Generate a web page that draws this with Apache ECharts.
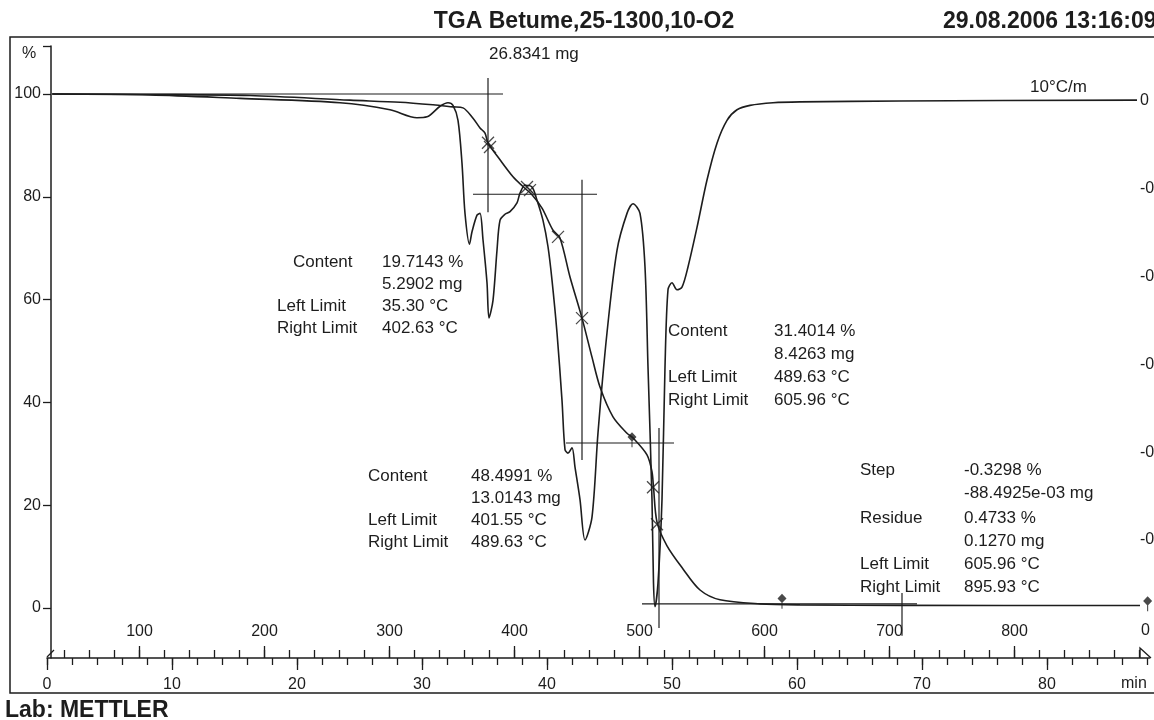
<!DOCTYPE html>
<html>
<head>
<meta charset="utf-8">
<script src="https://cdn.jsdelivr.net/npm/echarts@6/dist/echarts.min.js"></script>
<style>
html,body{margin:0;padding:0;background:#fff;}
#chart{width:1154px;height:720px;}
</style>
</head>
<body>
<div id="chart"></div>
<script>
// ---- Measured curves -------------------------------------------------
// TGA weight curve: time (min) and remaining weight (%)
const tgaTime   = [0.40, 8.24, 16.24, 24.24, 28.24, 30.88, 32.48, 33.28, 34.08, 34.64, 35.04, 35.28, 36.24, 37.28, 38.08, 38.80, 39.60, 40.48, 41.04, 41.84, 42.80, 43.60, 44.24, 45.28, 46.40, 46.88, 48.00, 48.40, 48.52, 48.80, 49.60, 50.88, 52.24, 53.84, 57.04, 60.24, 68.24, 87.44];
const tgaWeight = [100.0, 99.9, 99.7, 98.8, 98.4, 97.9, 97.5, 97.3, 95.3, 93.4, 92.4, 90.5, 87.2, 83.9, 82.0, 80.4, 77.8, 73.5, 72.0, 64.4, 56.4, 48.8, 43.0, 37.2, 34.0, 33.1, 29.8, 26.5, 23.5, 16.7, 12.1, 7.6, 3.5, 1.6, 0.8, 0.6, 0.5, 0.47];

// DTG (first derivative) curve: time (min) and derivative signal
const dtgTime  = [0.48, 8.24, 15.44, 23.44, 27.44, 29.60, 30.40, 31.44, 32.08, 32.48, 32.88, 33.20, 33.44, 33.80, 34.00, 34.40, 34.64, 34.88, 35.20, 35.36, 35.68, 36.00, 36.24, 36.64, 37.04, 37.60, 37.84, 38.24, 38.80, 39.20, 39.68, 40.08, 40.40, 40.80, 41.20, 41.44, 41.68, 42.00, 42.24, 42.64, 43.04, 43.60, 44.08, 44.80, 45.60, 46.40, 46.88, 47.44, 47.84, 48.08, 48.40, 48.52, 48.64, 48.88, 49.20, 49.44, 49.68, 50.00, 50.40, 50.80, 51.28, 52.00, 52.80, 53.60, 54.40, 55.20, 56.24, 58.08, 60.24, 68.24, 87.20];
const dtgValue = [0.008, 0.007, 0.003, -0.002, -0.010, -0.019, -0.018, -0.006, -0.002, -0.005, -0.022, -0.071, -0.128, -0.163, -0.149, -0.130, -0.128, -0.158, -0.207, -0.247, -0.227, -0.170, -0.136, -0.129, -0.126, -0.116, -0.105, -0.096, -0.098, -0.113, -0.136, -0.166, -0.204, -0.264, -0.341, -0.397, -0.401, -0.395, -0.417, -0.454, -0.500, -0.474, -0.378, -0.264, -0.170, -0.128, -0.117, -0.128, -0.189, -0.303, -0.454, -0.549, -0.576, -0.549, -0.454, -0.303, -0.215, -0.207, -0.215, -0.212, -0.189, -0.144, -0.090, -0.048, -0.022, -0.010, -0.005, -0.002, -0.001, 0.000, 0.001];

// Step evaluation construction lines: [[t1, w1], [t2, w2]]
const stepLines = [
  [[0.40, 100.0], [36.48, 100.0]],
  [[35.28, 103.1], [35.28, 77.0]],
  [[34.08, 80.5], [44.00, 80.5]],
  [[42.80, 83.3], [42.80, 28.8]],
  [[41.52, 32.1], [50.16, 32.1]],
  [[48.96, 35.0], [48.96, -3.9]],
  [[47.60, 0.8], [69.60, 0.8]],
  [[68.40, 2.9], [68.40, -5.4]]
];
// Tangent intersection marks on the weight curve
const crossMarks = [[35.28, 90.5], [35.44, 89.7], [38.64, 81.3], [38.40, 81.9], [40.88, 72.2], [42.80, 56.4], [48.48, 23.5], [48.80, 16.3]];
// Inflection / limit marks
const diamondMarks = [[46.80, 33.3], [58.80, 1.9], [88.05, 1.4]];

// Axis tick values
const weightTicks = [0, 20, 40, 60, 80, 100];
const timeMajorTicks = [0, 10, 20, 30, 40, 50, 60, 70, 80];
const timeMinorTicks = Array.from({length: 45}, (_, i) => i * 2);
const tempMajorTicks = [100, 200, 300, 400, 500, 600, 700, 800];
const tempMinorTicks = Array.from({length: 44}, (_, i) => 40 + i * 20);
const dtgTicks = [0, -0.1, -0.2, -0.3, -0.4, -0.5];

// Texts
const titleText = 'TGA Betume,25-1300,10-O2';
const dateText = '29.08.2006 13:16:09';
const sampleMass = '26.8341 mg';
const heatingRate = '10°C/m';
const labText = 'Lab: METTLER';
const stepBlocks = [
  [['Content', '19.7143 %'], ['', '5.2902 mg'], ['Left Limit', '35.30 °C'], ['Right Limit', '402.63 °C']],
  [['Content', '48.4991 %'], ['', '13.0143 mg'], ['Left Limit', '401.55 °C'], ['Right Limit', '489.63 °C']],
  [['Content', '31.4014 %'], ['', '8.4263 mg'], ['Left Limit', '489.63 °C'], ['Right Limit', '605.96 °C']],
  [['Step', '-0.3298 %'], ['', '-88.4925e-03 mg'], ['Residue', '0.4733 %'], ['', '0.1270 mg'], ['Left Limit', '605.96 °C'], ['Right Limit', '895.93 °C']]
];

// ---- Layout ----------------------------------------------------------
const INK = '#1d1d1d';
const FONT = "'Liberation Sans', Arial, sans-serif";
const blockLayout = [
  {labelX: [293, 293, 277, 277], valueX: 382, rowY: [262, 284, 306, 328]},
  {labelX: [368, 368, 368, 368], valueX: 471, rowY: [476, 498, 520, 542]},
  {labelX: [668, 668, 668, 668], valueX: 774, rowY: [331, 354, 377, 400]},
  {labelX: [860, 860, 860, 860, 860, 860], valueX: 964, rowY: [470, 493, 518, 541, 564, 587]}
];

const zip = (a, b) => a.map((v, i) => [v, b[i]]);

const graphics = [];
function txt(x, y, s, opt) {
  graphics.push({
    type: 'text', x: x, y: y, silent: true,
    style: Object.assign({text: s, fill: INK, font: '17px ' + FONT, verticalAlign: 'middle', align: 'left'}, opt || {})
  });
}
// frame, header rule and axis end decorations
graphics.push({type: 'rect', shape: {x: 10, y: 37, width: 1170, height: 656}, style: {fill: 'none', stroke: INK, lineWidth: 1.5}, silent: true});
graphics.push({type: 'line', shape: {x1: 47, y1: 657, x2: 54, y2: 650}, style: {stroke: INK, lineWidth: 1.2}, silent: true});
graphics.push({type: 'polyline', shape: {points: [[1140, 658], [1140, 648], [1151, 658]]}, style: {stroke: INK, fill: 'none', lineWidth: 1.3}, silent: true});
txt(584, 22, titleText, {font: 'bold 23px ' + FONT, align: 'center'});
txt(943, 22, dateText, {font: 'bold 23px ' + FONT});
txt(489, 54, sampleMass);
txt(1030, 87, heatingRate);
txt(5, 711, labText, {font: 'bold 23px ' + FONT});
txt(22, 54, '%', {font: '16px ' + FONT});
txt(1121, 684, 'min', {font: '16px ' + FONT});
txt(1141, 631, '0', {font: '16px ' + FONT});
stepBlocks.forEach((rows, b) => {
  const L = blockLayout[b];
  rows.forEach((r, i) => {
    if (r[0]) txt(L.labelX[i], L.rowY[i], r[0]);
    txt(L.valueX, L.rowY[i], r[1]);
  });
});

const lineStyleMain = {color: INK, width: 1.6};
const series = [
  {
    type: 'line', xAxisIndex: 0, yAxisIndex: 0, data: zip(tgaTime, tgaWeight),
    showSymbol: false, smooth: 0.3, lineStyle: lineStyleMain, itemStyle: {color: INK}, clip: false, z: 3
  },
  {
    type: 'line', xAxisIndex: 4, yAxisIndex: 1, data: zip(dtgTime, dtgValue),
    showSymbol: false, smooth: 0.3, lineStyle: lineStyleMain, itemStyle: {color: INK}, clip: false, z: 3
  }
];
stepLines.forEach(seg => series.push({
  type: 'line', xAxisIndex: 0, yAxisIndex: 0, data: seg, showSymbol: false,
  lineStyle: {color: INK, width: 1.2}, clip: false, silent: true, z: 2
}));
series.push({
  type: 'scatter', xAxisIndex: 0, yAxisIndex: 0, data: crossMarks,
  symbol: 'path://M0,0L10,10M10,0L0,10', symbolSize: 12,
  itemStyle: {color: 'rgba(0,0,0,0)', borderColor: INK, borderWidth: 1.3}, silent: true, z: 4
});
series.push({
  type: 'scatter', xAxisIndex: 0, yAxisIndex: 0, data: diamondMarks,
  symbol: 'path://M5,0L10,5L5,10L0,5ZM4.4,9L5.6,9L5.6,16L4.4,16Z', symbolSize: [9, 15], symbolOffset: [0, 3],
  itemStyle: {color: INK}, silent: true, z: 4
});

const hiddenAxisParts = {axisLine: {show: false}, axisTick: {show: false}, axisLabel: {show: false}, splitLine: {show: false}};
const axisFont = {color: INK, fontSize: 16, fontFamily: FONT};

const option = {
  backgroundColor: '#ffffff',
  animation: false,
  grid: [
    {left: 47, top: 46, width: 1102.5, height: 612, outerBoundsMode: 'none', containLabel: false},
    {left: 47, top: 101, width: 1090, height: 439, outerBoundsMode: 'none', containLabel: false}
  ],
  xAxis: [
    // 0: time axis line, minor ticks every 2 min
    {type: 'value', gridIndex: 0, min: 0, max: 88.2, position: 'bottom',
      axisLine: {show: true, onZero: false, lineStyle: {color: INK, width: 1.5}},
      axisTick: {show: true, length: 7, lineStyle: {color: INK, width: 1.3}, customValues: timeMinorTicks},
      axisLabel: {show: false}, splitLine: {show: false}},
    // 1: time axis, major ticks and labels
    {type: 'value', gridIndex: 0, min: 0, max: 88.2, position: 'bottom',
      axisLine: {show: false, onZero: false},
      axisTick: {show: true, length: 12, lineStyle: {color: INK, width: 1.3}, customValues: timeMajorTicks},
      axisLabel: {show: true, margin: 19, customValues: timeMajorTicks, ...axisFont}, splitLine: {show: false}},
    // 2: furnace temperature, minor ticks
    {type: 'value', gridIndex: 0, min: 26, max: 908, position: 'bottom',
      axisLine: {show: false, onZero: false},
      axisTick: {show: true, inside: true, length: 8, lineStyle: {color: INK, width: 1.3}, customValues: tempMinorTicks},
      axisLabel: {show: false}, splitLine: {show: false}},
    // 3: furnace temperature, major ticks and labels
    {type: 'value', gridIndex: 0, min: 26, max: 908, position: 'bottom',
      axisLine: {show: false, onZero: false},
      axisTick: {show: true, inside: true, length: 12, lineStyle: {color: INK, width: 1.3}, customValues: tempMajorTicks},
      axisLabel: {show: true, inside: true, margin: 18, customValues: tempMajorTicks, ...axisFont}, splitLine: {show: false}},
    // 4: time axis of the DTG grid (hidden)
    {type: 'value', gridIndex: 1, min: 0, max: 87.2, show: false, ...hiddenAxisParts}
  ],
  yAxis: [
    {type: 'value', gridIndex: 0, min: -9.73, max: 109.34, position: 'left', offset: -4,
      axisLine: {show: true, onZero: false, lineStyle: {color: INK, width: 1.5}},
      axisTick: {show: true, length: 8, lineStyle: {color: INK, width: 1.3}, customValues: weightTicks.concat([109.34])},
      axisLabel: {show: true, margin: 10, customValues: weightTicks, ...axisFont},
      splitLine: {show: false}},
    {type: 'value', gridIndex: 1, min: -0.5, max: 0, position: 'right',
      axisLine: {show: false}, axisTick: {show: false},
      axisLabel: {show: true, margin: 3, customValues: dtgTicks, formatter: v => (v === 0 ? '0' : v.toFixed(1)), ...axisFont},
      splitLine: {show: false}}
  ],
  graphic: graphics,
  series: series
};

const chart = echarts.init(document.getElementById('chart'), null, {renderer: 'canvas'});
chart.setOption(option);
</script>
</body>
</html>
